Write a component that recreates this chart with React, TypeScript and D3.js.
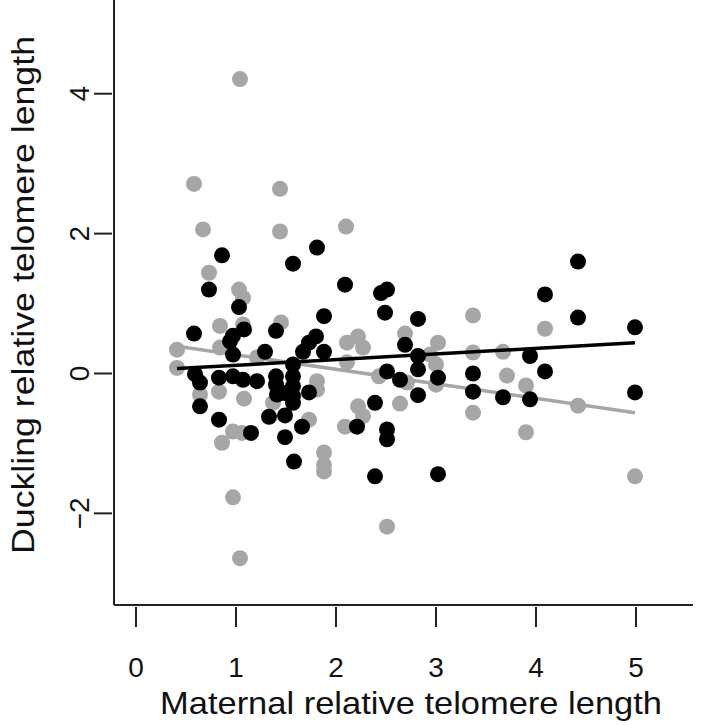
import React from "react";
import * as d3 from "d3";

// Grey series: [maternal, duckling]
const greyX = [1.04, 0.58, 1.44, 0.67, 1.44, 2.10, 0.73, 1.03, 1.07, 0.84, 1.07, 1.45, 0.84, 2.11, 2.22, 2.27, 0.41, 0.41, 1.21, 2.11, 1.81, 1.81, 0.64, 0.83, 1.08, 1.37, 0.97, 1.06, 0.86, 1.73, 1.88, 1.88, 1.88, 2.09, 2.22, 2.27, 2.43, 3.37, 4.09, 2.69, 3.02, 2.94, 3.37, 3.67, 3.00, 2.71, 3.00, 3.71, 3.90, 4.42, 2.64, 3.37, 3.90, 4.99, 0.97, 1.04, 2.51];
const greyY = [4.21, 2.71, 2.64, 2.06, 2.03, 2.10, 1.44, 1.20, 1.08, 0.68, 0.70, 0.73, 0.37, 0.44, 0.53, 0.37, 0.34, 0.08, 0.23, 0.16, -0.11, -0.23, -0.30, -0.26, -0.36, -0.42, -0.83, -0.85, -0.99, -0.66, -1.13, -1.31, -1.40, -0.76, -0.47, -0.61, -0.04, 0.83, 0.64, 0.57, 0.44, 0.27, 0.30, 0.31, 0.13, -0.13, -0.16, -0.03, -0.17, -0.46, -0.43, -0.56, -0.84, -1.47, -1.77, -2.64, -2.19];

// Black series
const blackX = [0.86, 1.81, 1.57, 0.73, 2.09, 1.03, 2.45, 2.51, 2.49, 1.88, 1.08, 0.97, 0.94, 0.58, 1.40, 0.97, 1.29, 1.80, 1.73, 1.67, 1.88, 1.57, 0.59, 0.64, 0.83, 0.97, 1.07, 1.21, 1.40, 1.40, 1.41, 1.57, 1.57, 1.57, 1.57, 1.73, 1.49, 0.64, 0.83, 1.15, 1.33, 1.49, 1.49, 1.66, 1.58, 2.39, 2.21, 2.51, 2.51, 2.39, 2.51, 4.42, 4.09, 4.42, 4.99, 2.82, 2.69, 2.82, 3.94, 2.82, 2.64, 3.02, 3.37, 4.09, 3.37, 3.67, 3.94, 4.99, 2.82, 3.02];
const blackY = [1.69, 1.80, 1.57, 1.20, 1.27, 0.95, 1.15, 1.20, 0.87, 0.82, 0.63, 0.54, 0.46, 0.57, 0.61, 0.27, 0.31, 0.53, 0.44, 0.31, 0.31, 0.13, -0.01, -0.13, -0.06, -0.04, -0.09, -0.11, -0.04, -0.16, -0.30, -0.04, -0.18, -0.32, -0.42, -0.27, -0.28, -0.47, -0.66, -0.85, -0.62, -0.60, -0.91, -0.76, -1.26, -0.42, -0.76, -0.80, -0.94, -1.47, 0.03, 1.60, 1.13, 0.80, 0.66, 0.78, 0.41, 0.25, 0.25, 0.06, -0.09, -0.06, 0.00, 0.03, -0.26, -0.34, -0.37, -0.27, -0.31, -1.44];

// Fitted lines: [x0, y0, x1, y1]
const greyFit = [0.41, 0.39, 4.99, -0.56];
const blackFit = [0.41, 0.07, 4.99, 0.44];

const xTicks = [0, 1, 2, 3, 4, 5];
const yTicks = [-2, 0, 2, 4];
const xTitle = "Maternal relative telomere length";
const yTitle = "Duckling relative telomere length";

const W = 709;
const H = 726;
const GREY = "#a6a6a6";
const FONT = "'Liberation Sans', Arial, sans-serif";

export default function App() {
  const x = d3.scaleLinear().domain([-0.22, 5.57]).range([114, 693]);
  const y = d3.scaleLinear().domain([-3.31, 5.34]).range([605, 0]);
  const line = d3
    .line<[number, number]>()
    .x((d) => x(d[0]))
    .y((d) => y(d[1]));
  const fitPath = (f: number[]) =>
    line([
      [f[0], f[1]],
      [f[2], f[3]],
    ]) || "";

  const grey = greyX.map((v, i) => [v, greyY[i]] as [number, number]);
  const black = blackX.map((v, i) => [v, blackY[i]] as [number, number]);

  return (
    <svg
      width={W}
      height={H}
      style={{ position: "absolute", left: 0, top: 0, background: "#fff" }}
      fontFamily={FONT}
    >
      <rect width={W} height={H} fill="#fff" />
      {grey.map((d, i) => (
        <circle key={"g" + i} cx={x(d[0])} cy={y(d[1])} r={8} fill={GREY} />
      ))}
      <path d={fitPath(greyFit)} stroke={GREY} strokeWidth={3.5} fill="none" />
      {black.map((d, i) => (
        <circle key={"b" + i} cx={x(d[0])} cy={y(d[1])} r={8} fill="#000" />
      ))}
      <path d={fitPath(blackFit)} stroke="#000" strokeWidth={3.5} fill="none" />

      {/* axes */}
      <line x1={114} y1={0} x2={114} y2={605} stroke="#222" strokeWidth={2} />
      <line x1={114} y1={605} x2={693} y2={605} stroke="#222" strokeWidth={2} />
      {xTicks.map((t) => (
        <g key={"xt" + t}>
          <line x1={x(t)} x2={x(t)} y1={607} y2={627} stroke="#222" strokeWidth={2} />
          <text x={x(t)} y={677} textAnchor="middle" fontSize={28} fill="#111">
            {t}
          </text>
        </g>
      ))}
      {yTicks.map((t) => (
        <g key={"yt" + t}>
          <line x1={94} x2={112} y1={y(t)} y2={y(t)} stroke="#222" strokeWidth={2} />
          <text
            transform={`translate(89,${y(t)}) rotate(-90)`}
            textAnchor="middle"
            fontSize={28}
            fill="#111"
          >
            {t < 0 ? "\u2212" + Math.abs(t) : t}
          </text>
        </g>
      ))}
      <text
        x={411}
        y={714}
        textAnchor="middle"
        fontSize={32}
        fill="#111"
        textLength={502}
        lengthAdjust="spacingAndGlyphs"
      >
        {xTitle}
      </text>
      <text
        transform={`translate(34,${295}) rotate(-90)`}
        textAnchor="middle"
        fontSize={32}
        fill="#111"
        textLength={518}
        lengthAdjust="spacingAndGlyphs"
      >
        {yTitle}
      </text>
    </svg>
  );
}
